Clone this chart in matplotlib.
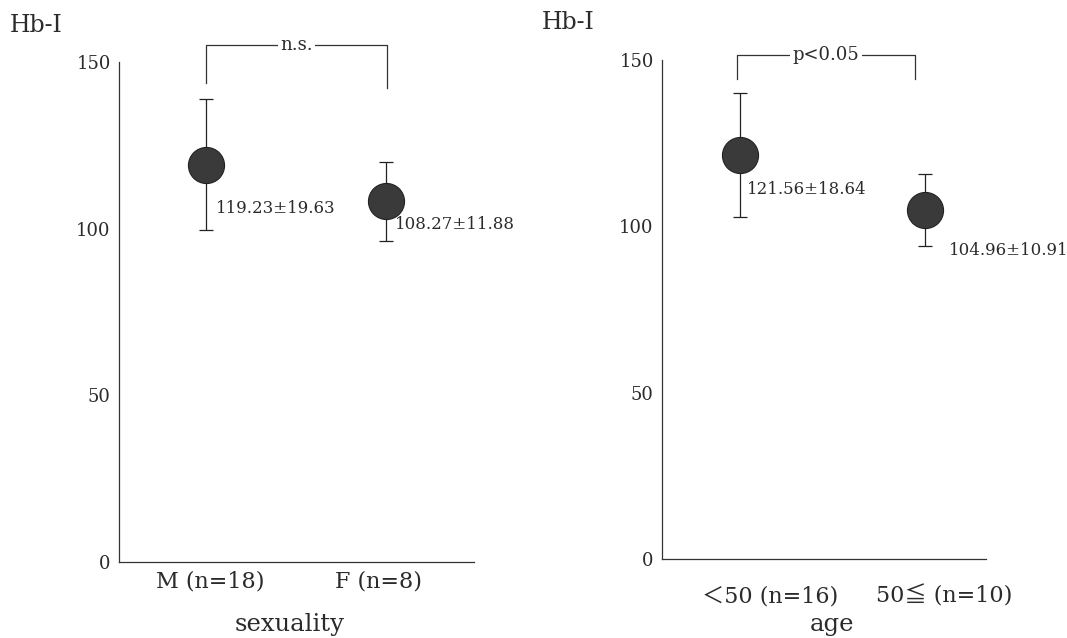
import matplotlib.pyplot as plt

plt.rcParams["font.family"] = ["DejaVu Serif", "Noto Sans CJK JP"]

# panel 1: sexuality
sex_groups = ["M (n=18)", "F (n=8)"]
sex_mean = [119.23, 108.27]
sex_sd = [19.63, 11.88]
sex_test = "n.s."

# panel 2: age
age_groups = ["＜50 (n=16)", "50≦ (n=10)"]
age_mean = [121.56, 104.96]
age_sd = [18.64, 10.91]
age_test = "p<0.05"

y_ticks = [0, 50, 100, 150]
y_label = "Hb-I"

TEXT = "#2b2b2b"
DOT = "#3a3a3a"


def draw_panel(ax, groups, mean, sd, test, xlabel, layout):
    x = list(range(1, len(groups) + 1))
    ax.errorbar(x, mean, yerr=sd, fmt="none", ecolor="#222222",
                elinewidth=0.9, capsize=5, capthick=0.9, zorder=2)
    ax.plot(x, mean, "o", ms=26, color=DOT, mec="#222222", mew=0.8,
            zorder=3)
    for xi, m, s, (dx, dy) in zip(x, mean, sd, layout["label_offsets"]):
        ax.annotate(f"{m:.2f}±{s:.2f}", xy=(xi, m), xytext=(dx, dy),
                    textcoords="offset pixels", ha="left", va="center",
                    fontsize=12, color=TEXT)

    # significance bracket
    bx0, bx1, y_top, y_l, y_r = layout["bracket"]
    ax.plot([bx0, bx0, bx1, bx1], [y_l, y_top, y_top, y_r],
            color="#333333", lw=0.9, clip_on=False)
    ax.text((bx0 + bx1) / 2, y_top, test, ha="center", va="center",
            fontsize=13, color=TEXT, clip_on=False,
            bbox=dict(fc="white", ec="none", pad=1.5))

    ax.set_xlim(*layout["xlim"])
    ax.set_ylim(0, 150)
    ax.set_yticks(y_ticks)
    # group labels sit slightly off the dots in the original
    ax.set_xticks([xi + s for xi, s in zip(x, layout["tick_shift"])])
    ax.set_xticklabels(groups, fontsize=16, color=TEXT, va="baseline")
    ax.tick_params(axis="y", length=0, pad=6, labelsize=13, labelcolor=TEXT)
    ax.tick_params(axis="x", length=0, pad=layout["tick_pad"])
    ax.set_xlabel(xlabel, fontsize=17.5, color=TEXT, va="center")
    ax.xaxis.set_label_coords(*layout["xlabel_pos"])
    for side in ["top", "right"]:
        ax.spines[side].set_visible(False)
    for side in ["left", "bottom"]:
        ax.spines[side].set_color("#333333")
        ax.spines[side].set_linewidth(0.9)


fig = plt.figure(figsize=(10.67, 6.38), dpi=100)
ax1 = fig.add_axes([0.1115, 0.1191, 0.3327, 0.7837])
ax2 = fig.add_axes([0.6204, 0.1238, 0.3037, 0.7822])

draw_panel(ax1, sex_groups, sex_mean, sex_sd, sex_test, "sexuality", dict(
    xlim=(0.517, 2.489), label_offsets=[(10, -44), (9, -23)],
    tick_shift=[0.022, -0.039], tick_pad=18, xlabel_pos=(0.482, -0.124),
    bracket=(1.0, 2.006, 155.1, 143.6, 142.2)))
draw_panel(ax2, age_groups, age_mean, age_sd, age_test, "age", dict(
    xlim=(0.578, 2.33), label_offsets=[(7, -35), (24, -41)],
    tick_shift=[0.162, 0.103], tick_pad=31, xlabel_pos=(0.525, -0.132),
    bracket=(0.984, 1.946, 151.5, 144.3, 144.3)))

fig.text(0.009, 0.96, y_label, fontsize=17, color=TEXT, va="center")
fig.text(0.508, 0.965, y_label, fontsize=17, color=TEXT, va="center")

fig.savefig("out.png", dpi=100, facecolor="white")
